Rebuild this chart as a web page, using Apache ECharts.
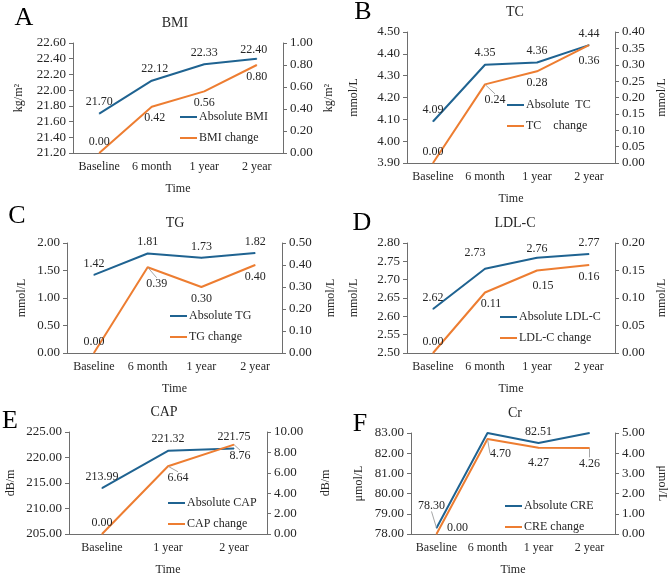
<!DOCTYPE html>
<html>
<head>
<meta charset="utf-8">
<script src="https://cdn.jsdelivr.net/npm/echarts@6/dist/echarts.min.js"></script>
<style>
  html, body { margin: 0; background: #fff; }
  #chart { width: 669px; height: 577px; }
</style>
</head>
<body>
<div id="chart"></div>
<script>
// categories
const cats4 = ['Baseline', '6 month', '1 year', '2 year'];
const cats3 = ['Baseline', '1 year', '2 year'];

// values
const bmiAbs = [21.70, 22.12, 22.33, 22.40];
const bmiChg = [0.00, 0.42, 0.56, 0.80];
const tcAbs = [4.09, 4.35, 4.36, 4.44];
const tcChg = [0.00, 0.24, 0.28, 0.36];
const tgAbs = [1.42, 1.81, 1.73, 1.82];
const tgChg = [0.00, 0.39, 0.30, 0.40];
const ldlAbs = [2.62, 2.73, 2.76, 2.77];
const ldlChg = [0.00, 0.11, 0.15, 0.16];
const capAbs = [213.99, 221.32, 221.75];
const capChg = [0.00, 6.64, 8.76];
const crAbs = [78.30, 83.00, 82.51, 83.00];
const crChg = [0.00, 4.70, 4.27, 4.26];

const FONT = '"Liberation Serif", "Times New Roman", serif';
const BLUE = '#1f6391';
const ORANGE = '#ed7d31';
const TXT = '#262626';
const AXIS = '#6e6e6e';

// per panel layout
const panels = [
  { letter: 'A', title: 'BMI', unit: 'kg/m²', cats: cats4, abs: bmiAbs, chg: bmiChg,
    absName: 'Absolute BMI', chgName: 'BMI change',
    grid: [73, 43, 210, 110], l: [21.2, 22.6, 0.2], r: [0, 1, 0.2], lgap: 48, rgap: 40,
    legend: [180, 111], titlePos: [175, 23], letterPos: [24, 18],
    absOff: { 1: [3, 0], 3: [-3, 3] }, chgOff: { 1: [3, 0] } },
  { letter: 'B', title: 'TC', unit: 'mmol/L', cats: cats4, abs: tcAbs, chg: tcChg,
    absName: 'Absolute  TC', chgName: 'TC    change',
    grid: [407, 32, 215, 131], l: [3.9, 4.5, 0.1], r: [0, 0.4, 0.05], lgap: 47, rgap: 41,
    legend: [507, 99], titlePos: [515, 12], letterPos: [363, 12],
    chgOff: { 1: [10, 4], 3: [0, 4] }, chgLine: [1] },
  { letter: 'C', title: 'TG', unit: 'mmol/L', cats: cats4, abs: tgAbs, chg: tgChg,
    absName: 'Absolute TG', chgName: 'TG change',
    grid: [67, 243, 215, 110], l: [0, 2, 0.5], r: [0, 0.5, 0.1], lgap: 39, rgap: 43,
    legend: [170, 310], titlePos: [175, 223], letterPos: [17, 216],
    chgOff: { 1: [9, 5] }, chgLine: [1] },
  { letter: 'D', title: 'LDL-C', unit: 'mmol/L', cats: cats4, abs: ldlAbs, chg: ldlChg,
    absName: 'Absolute LDL-C', chgName: 'LDL-C change',
    grid: [407, 243, 215, 110], l: [2.5, 2.8, 0.05], r: [0, 0.2, 0.05], lgap: 47, rgap: 41,
    legend: [500, 311], titlePos: [515, 223], letterPos: [362, 223],
    absOff: { 1: [-10, -4], 2: [0, 3] }, chgOff: { 1: [6, 0], 2: [6, 4] } },
  { letter: 'E', title: 'CAP', unit: 'dB/m', cats: cats3, abs: capAbs, chg: capChg,
    absName: 'Absolute CAP', chgName: 'CAP change',
    grid: [69, 432, 198, 106], l: [205, 225, 5], r: [0, 10, 2], lgap: 52, rgap: 53,
    legend: [168, 497], titlePos: [164, 412], letterPos: [10, 421],
    chgOff: { 1: [10, 0], 2: [6, 0] }, chgLine: [1, 2] },
  { letter: 'F', title: 'Cr', unit: 'μmol/L', cats: cats4, abs: crAbs, chg: crChg,
    absName: 'Absolute CRE', chgName: 'CRE change',
    grid: [411, 433, 211, 109], l: [78, 83, 1], r: [0, 5, 1], lgap: 46, rgap: 41, rRot: -90,
    legend: [505, 500], titlePos: [515, 413], letterPos: [360, 424],
    absOff: { 0: [-5, -11] }, absHide: [1, 3], absLine: [0],
    chgPos: { 0: 'right' }, chgOff: { 0: [5, -6], 1: [13, 3], 2: [0, 4], 3: [0, 4] }, chgLine: [1, 3] }
];

const grids = [], xAxes = [], yAxes = [], series = [], legends = [], graphics = [];

function valueAxis(p, gi, range, side, gap, rot) {
  return {
    type: 'value', gridIndex: gi, position: side,
    min: range[0], max: range[1], interval: range[2],
    name: p.unit, nameLocation: 'middle', nameGap: gap, nameRotate: rot,
    nameTextStyle: { fontFamily: FONT, fontSize: 12, color: TXT },
    axisLine: { show: true, lineStyle: { color: AXIS, width: 1 } },
    axisTick: { show: true, length: 4, lineStyle: { color: AXIS } },
    splitLine: { show: false },
    axisLabel: { fontFamily: FONT, fontSize: 13, color: TXT, margin: 7,
      formatter: v => v.toFixed(2) }
  };
}

function buildData(vals, pos, off, lines, hide, defPos) {
  return vals.map((v, i) => {
    const item = { value: v, label: { position: (pos && pos[i]) || defPos } };
    if (hide && hide.includes(i)) item.label.show = false;
    if (lines && lines.includes(i)) item.labelLine = { show: true };
    return item;
  });
}

function layoutFn(off) {
  return params => {
    const o = off && off[params.dataIndex];
    return o ? { dx: o[0], dy: o[1] } : {};
  };
}

panels.forEach((p, gi) => {
  grids.push({ left: p.grid[0], top: p.grid[1], width: p.grid[2], height: p.grid[3] });
  xAxes.push({
    type: 'category', gridIndex: gi, data: p.cats, boundaryGap: true,
    name: 'Time', nameLocation: 'middle', nameGap: 30,
    nameTextStyle: { fontFamily: FONT, fontSize: 12, color: TXT },
    axisLine: { lineStyle: { color: AXIS, width: 1 } },
    axisTick: { length: 4, lineStyle: { color: AXIS } },
    axisLabel: { fontFamily: FONT, fontSize: 12, color: TXT, margin: 8, interval: 0 }
  });
  const yl = yAxes.length;
  yAxes.push(valueAxis(p, gi, p.l, 'left', p.lgap, 90));
  yAxes.push(valueAxis(p, gi, p.r, 'right', p.rgap, p.rRot || 90));

  const common = {
    type: 'line', xAxisIndex: gi, symbol: 'circle', symbolSize: 1, showSymbol: true,
    lineStyle: { width: 2 }, emphasis: { disabled: true },
    label: { show: true, fontFamily: FONT, fontSize: 12, color: TXT, distance: 5,
      formatter: q => q.value.toFixed(2) },
    labelLine: { show: false, length2: 0, lineStyle: { color: '#a6a6a6', width: 1 } }
  };
  series.push(Object.assign({}, common, {
    name: p.absName, yAxisIndex: yl, color: BLUE, itemStyle: { color: BLUE },
    data: buildData(p.abs, null, p.absOff, p.absLine, p.absHide, 'top'),
    labelLayout: layoutFn(p.absOff)
  }));
  const chgPos = Object.assign({ 0: 'top' }, p.chgPos || {});
  series.push(Object.assign({}, common, {
    name: p.chgName, yAxisIndex: yl + 1, color: ORANGE, itemStyle: { color: ORANGE },
    data: buildData(p.chg, chgPos, p.chgOff, p.chgLine, null, 'bottom'),
    labelLayout: layoutFn(p.chgOff)
  }));

  legends.push({
    data: [p.absName, p.chgName], orient: 'vertical', left: p.legend[0], top: p.legend[1],
    icon: 'rect', itemWidth: 17, itemHeight: 2, itemGap: 9, padding: 0,
    selectedMode: false,
    textStyle: { fontFamily: FONT, fontSize: 12, color: TXT, padding: [0, 0, 0, -3] }
  });

  graphics.push({
    type: 'text', x: p.titlePos[0], y: p.titlePos[1],
    style: { text: p.title, font: '14px ' + FONT, fill: TXT, textAlign: 'center', textVerticalAlign: 'middle' }
  });
  graphics.push({
    type: 'text', x: p.letterPos[0], y: p.letterPos[1],
    style: { text: p.letter, font: '26px ' + FONT, fill: '#000', textAlign: 'center', textVerticalAlign: 'middle' }
  });
});

const chart = echarts.init(document.getElementById('chart'), null, { renderer: 'canvas' });
chart.setOption({
  animation: false,
  backgroundColor: '#fff',
  grid: grids,
  xAxis: xAxes,
  yAxis: yAxes,
  legend: legends,
  series: series,
  graphic: graphics
});
</script>
</body>
</html>
